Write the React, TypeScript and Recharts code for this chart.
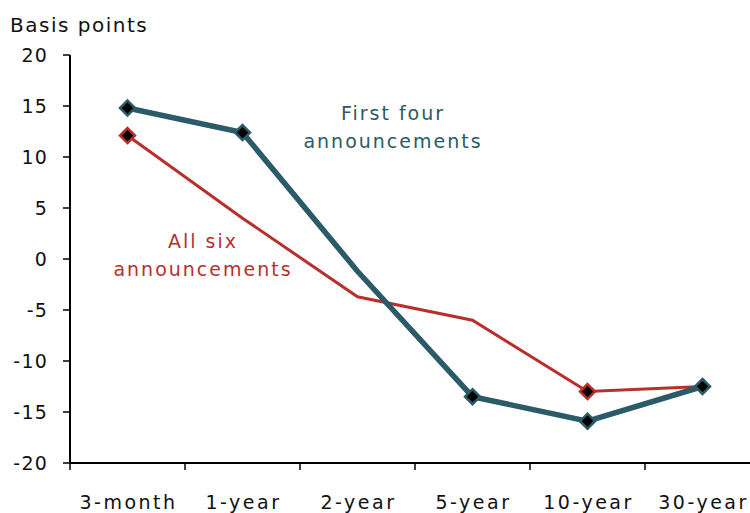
import React from 'react';
import { LineChart, Line, XAxis, YAxis } from 'recharts';

const categories = ['3-month', '1-year', '2-year', '5-year', '10-year', '30-year'];
const firstFour = [14.8, 12.4, -1.2, -13.5, -15.9, -12.5];
const allSix = [12.1, 4.0, -3.7, -6.0, -13.0, -12.5];
const firstFourMarkers = [true, true, false, true, true, true];
const allSixMarkers = [true, false, false, false, true, false];
const yTicks = [-20, -15, -10, -5, 0, 5, 10, 15, 20];
const xBoundaries = [0, 1, 2, 3, 4, 5, 6];

const TEAL = '#2b5a68';
const RED = '#b8302c';
const FONT = '"DejaVu Sans", Verdana, sans-serif';

const data = categories.map((c, i) => ({
  cat: c,
  pos: i + 0.5,
  firstFour: firstFour[i],
  allSix: allSix[i],
}));

const makeDot = (markers: boolean[], color: string) => (props: any) => {
  const { cx, cy, index } = props;
  if (!markers[index] || cx == null || cy == null) return <g key={`d-${color}-${index}`} />;
  const r = 7.5;
  return (
    <polygon
      key={`d-${color}-${index}`}
      points={`${cx},${cy - r} ${cx + r},${cy} ${cx},${cy + r} ${cx - r},${cy}`}
      fill="#000"
      stroke={color}
      strokeWidth={2.5}
    />
  );
};

const CatTick = (props: any) => {
  const { x, y, index, width } = props;
  const label = categories[index];
  if (!label) return <g />;
  const band = (width || 690) / categories.length;
  return (
    <text
      x={x + band / 2 + 1}
      y={y + 37}
      textAnchor="middle"
      fontSize={19}
      letterSpacing={2.5}
      fontFamily={FONT}
      fill="#111"
    >
      {label}
    </text>
  );
};

export default function App() {
  return (
    <div style={{ position: 'absolute', left: 0, top: 0, width: 750, height: 513, overflow: 'hidden', background: '#fff' }}>
      <LineChart width={770} height={513} data={data} margin={{ top: 55, right: 10, bottom: 0, left: 0 }}>
        <XAxis
          dataKey="pos"
          type="number"
          domain={[0, 6]}
          ticks={xBoundaries}
          interval={0}
          height={50}
          axisLine={{ stroke: '#000', strokeWidth: 2 }}
          tickLine={{ stroke: '#000', strokeWidth: 1.5 }}
          tickSize={7}
          tick={<CatTick />}
        />
        <YAxis
          type="number"
          domain={[-20, 20]}
          ticks={yTicks}
          interval={0}
          width={70}
          axisLine={{ stroke: '#000', strokeWidth: 2 }}
          tickLine={{ stroke: '#000', strokeWidth: 1.5 }}
          tickSize={7}
          tickMargin={15}
          tick={{ fontSize: 19, fontFamily: FONT, fill: '#111', letterSpacing: 1.2 }}
        />
        <Line
          dataKey="allSix"
          stroke={RED}
          strokeWidth={3}
          isAnimationActive={false}
          dot={makeDot(allSixMarkers, RED)}
          activeDot={false}
        />
        <Line
          dataKey="firstFour"
          stroke={TEAL}
          strokeWidth={5.5}
          isAnimationActive={false}
          dot={makeDot(firstFourMarkers, TEAL)}
          activeDot={false}
        />
      </LineChart>
      <div style={{ position: 'absolute', left: 10, top: 13, fontSize: 20, lineHeight: '24px', letterSpacing: 1.5, fontFamily: FONT, color: '#111', whiteSpace: 'nowrap' }}>
        Basis points
      </div>
      <div style={{ position: 'absolute', left: 283, top: 99, width: 220, textAlign: 'center', fontSize: 19, lineHeight: '28px', letterSpacing: 2, fontFamily: FONT, color: TEAL }}>
        First four<br />announcements
      </div>
      <div style={{ position: 'absolute', left: 93, top: 227, width: 220, textAlign: 'center', fontSize: 19, lineHeight: '28px', letterSpacing: 2, fontFamily: FONT, color: RED }}>
        All six<br />announcements
      </div>
    </div>
  );
}
